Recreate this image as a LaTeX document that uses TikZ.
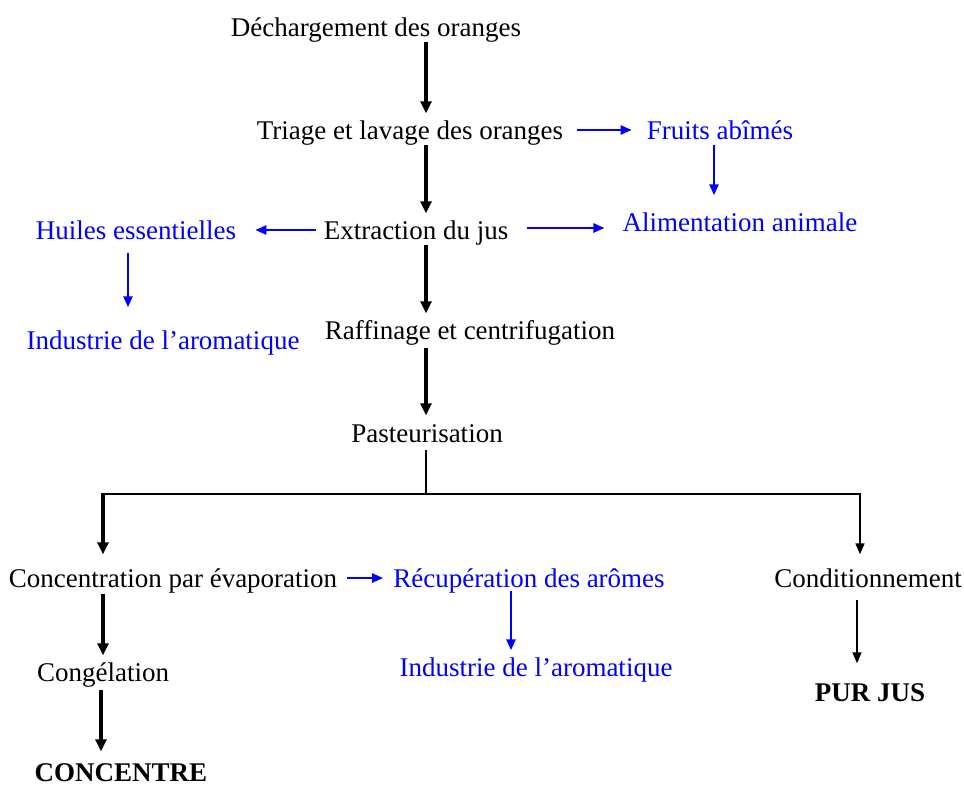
\documentclass[tikz,border=0pt]{standalone}
\usepackage{fontspec}
\setmainfont{Liberation Serif}
\usetikzlibrary{arrows.meta}
\begin{document}
\begin{tikzpicture}[x=1pt,y=-1pt,
  lbl/.style={font=\fontsize{27}{30}\selectfont, inner sep=0pt, text height=21pt, text depth=2pt},
  bl/.style={lbl, text=blue},
  bld/.style={lbl, font=\fontsize{27}{30}\selectfont\bfseries},
  blk/.style={line width=3.2pt, -{Triangle[length=12pt,width=11pt]}},
  blkthin/.style={line width=1.6pt, -{Triangle[length=11pt,width=9pt]}},
  blu/.style={blue, line width=2.4pt, -{Triangle[length=11pt,width=9pt]}},
  bar/.style={line width=2pt}
]
\useasboundingbox (0,0) rectangle (964,788);
\coordinate (sp) at (426,0);
\node[lbl] (dech) at (376,27) {Déchargement des oranges};
\node[lbl] (tri) at (410,130) {Triage et lavage des oranges};
\node[bl] (fruits) at (720,130) {Fruits abîmés};
\node[bl] (alim) at (740,222) {Alimentation animale};
\node[lbl] (extr) at (416,230) {Extraction du jus};
\node[bl] (huiles) at (136,230) {Huiles essentielles};
\node[bl] (ind1) at (163,340) {Industrie de l’aromatique};
\node[lbl] (raff) at (470,330) {Raffinage et centrifugation};
\node[lbl] (past) at (427,433) {Pasteurisation};
\node[lbl] (conc) at (173,578) {Concentration par évaporation};
\node[bl] (recup) at (529,578) {Récupération des arômes};
\node[bl] (ind2) at (536,667) {Industrie de l’aromatique};
\node[lbl] (cond) at (868,578) {Conditionnement};
\node[bld] (pur) at (870,692) {PUR JUS};
\node[lbl] (cong) at (103,672) {Congélation};
\node[bld] (concentre) at (121,772) {CONCENTRE};
\coordinate (jC) at (426,494);
\coordinate (jL) at (103,494);
\coordinate (jR) at (860,494);
\coordinate (xa) at (714,0);
\coordinate (xb) at (128,0);
\coordinate (xc) at (511,0);
\coordinate (xd) at (103,0);
\coordinate (xe) at (101,0);
\coordinate (xf) at (857,0);
% main spine
\draw[blk, shorten <=3pt, shorten >=5pt] (dech.south -| sp) -- (tri.north -| sp);
\draw[blk, shorten <=3pt, shorten >=5pt] (tri.south -| sp) -- (extr.north -| sp);
\draw[blk, shorten <=3pt, shorten >=5pt] (extr.south -| sp) -- (raff.north -| sp);
\draw[blk, shorten <=6pt, shorten >=6pt] (raff.south -| sp) -- (past.north -| sp);
\draw[bar, shorten <=5pt] (past.south -| sp) -- (jC);
\draw[bar] (jL) -- (jR);
\draw[blk] ([yshift=1pt]jL) -- ([yshift=12pt]conc.north -| jL);
\draw[blkthin] ([yshift=1pt]jR) -- ([yshift=12pt]cond.north -| jR);
% left branch
\draw[blk, shorten <=4pt, shorten >=5pt] (conc.south -| xd) -- (cong.north -| xd);
\draw[blk, shorten <=6pt, shorten >=9pt] (cong.south -| xe) -- (concentre.north -| xe);
\draw[blkthin, shorten <=10pt, shorten >=17pt] (cond.south -| xf) -- (pur.north -| xf);
% blue side branches
\draw[blu, shorten <=14pt, shorten >=15pt] (tri.east) -- (fruits.west);
\draw[blu, shorten <=3pt, shorten >=15pt] (fruits.south -| xa) -- (alim.north -| xa);
\draw[blu, shorten <=8pt, shorten >=19pt] (extr.west) -- (huiles.east);
\draw[blu, shorten <=19pt, shorten >=18pt] ([yshift=2pt]extr.east) -- ([yshift=2pt]extr.east -| alim.west);
\draw[blu, shorten <=11pt, shorten >=21pt] (huiles.south -| xb) -- (ind1.north -| xb);
\draw[blu, shorten <=10pt, shorten >=10pt] (conc.east) -- (recup.west);
\draw[blu, shorten <=1pt, shorten >=5pt] (recup.south -| xc) -- (ind2.north -| xc);
\end{tikzpicture}
\end{document}
